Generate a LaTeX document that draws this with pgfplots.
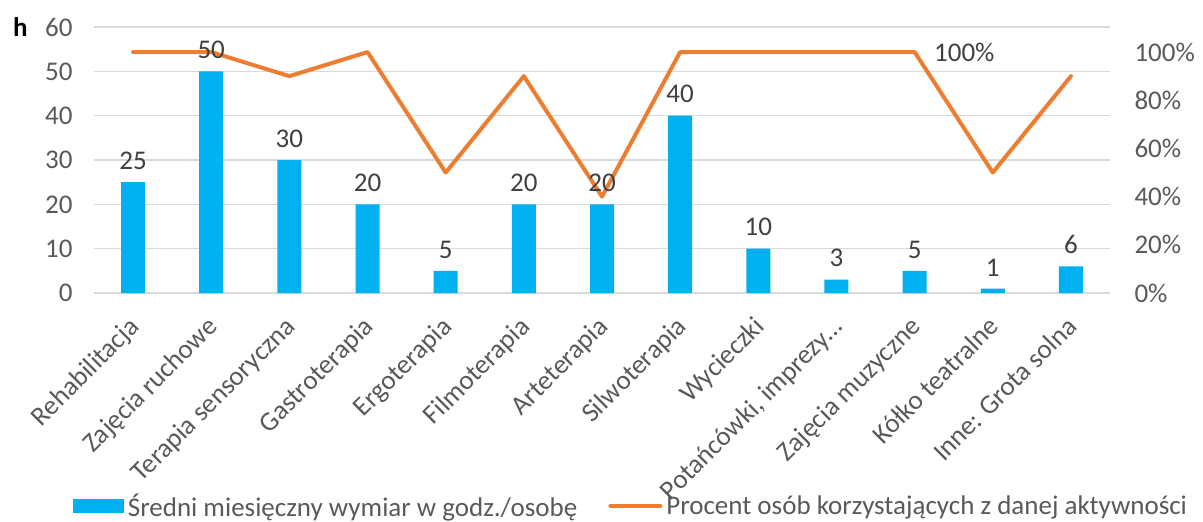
\documentclass[border=0pt]{standalone}
\usepackage{pgfplots}
\pgfplotsset{compat=1.18}
\usepackage{pgfplotstable}
\usepackage{fontspec}
\setmainfont{Carlito}

\definecolor{barblue}{HTML}{00B0F0}
\definecolor{lineorange}{HTML}{ED7D31}
\definecolor{gridgray}{HTML}{D9D9D9}
\definecolor{ticktext}{HTML}{595959}
\definecolor{labeltext}{HTML}{404040}

% idx: category, hours: average monthly hours per person, pct: share of people (%)
\pgfplotstableread{
idx hours pct
0   25    100
1   50    100
2   30    90
3   20    100
4   5     50
5   20    90
6   20    40
7   40    100
8   10    100
9   3     100
10  5     100
11  1     50
12  6     90
}\activity

\newcommand{\chartfont}{\fontsize{27}{32}\selectfont}

\pgfplotsset{
  base/.style={
    scale only axis, width=1016pt, height=266pt,
    xmin=-0.5, xmax=12.5,
    axis line style={draw=none},
    major tick length=0pt,
    tick label style={font=\chartfont, text=ticktext},
    /pgf/number format/assume math mode=true,
  },
}

\begin{document}
\begin{tikzpicture}
% bars with the hour scale on the left
\begin{axis}[base,
  ymin=0, ymax=60, ytick={0,10,...,60},
  ymajorgrids, grid style={gridgray, line width=1.5pt},
  yticklabel style={xshift=-18pt},
  xtick={0,...,12},
  xticklabels={Rehabilitacja, Zajęcia ruchowe, Terapia sensoryczna, Gastroterapia,
    Ergoterapia, Filmoterapia, Arteterapia, Silwoterapia, Wycieczki,
    {Potańcówki, imprezy…}, Zajęcia muzyczne, Kółko teatralne, Inne: Grota solna},
  xticklabel style={rotate=45, anchor=north east, xshift=-16pt, yshift=-8pt},
  legend columns=2,
  legend style={draw=none, fill=none, font=\chartfont, text=ticktext,
    at={(0.5295,-0.80)}, anchor=center,
    nodes={inner xsep=4pt},
    /tikz/every odd column/.append style={column sep=0pt},
    /tikz/every even column/.append style={column sep=27pt}},
]
\coordinate (bl) at (rel axis cs:0,0);
\coordinate (tr) at (rel axis cs:1,1);
\addplot[ybar, bar width=24pt, fill=barblue, draw=none,
  legend image code/.code={\fill[barblue] (0pt,-7pt) rectangle (51pt,7pt);}]
  table[x=idx, y=hours]{\activity};
\addlegendentry{Średni miesięczny wymiar w godz./osobę}
\addlegendimage{lineorange, line width=4pt,
  legend image code/.code={\draw[lineorange, line width=4pt, line cap=round] (2pt,0pt) -- (52pt,0pt);}}
\addlegendentry{Procent osób korzystających z danej aktywności}
\end{axis}

% share of people with the percent scale on the right
\begin{axis}[base,
  axis y line*=right,
  ymin=0, ymax=110.4, ytick={0,20,...,100},
  yticklabel={\pgfmathprintnumber{\tick}\%},
  yticklabel style={xshift=21pt},
  xtick=\empty,
  clip=false,
]
\addplot[lineorange, line width=4pt, line join=round, line cap=round, mark=none]
  table[x=idx, y=pct]{\activity};
\node[anchor=west, font=\chartfont, text=labeltext] at ([xshift=16pt]axis cs:10,100) {100\%};
\end{axis}

% value labels above the bars, on top of everything
\begin{axis}[base, hide axis, ymin=0, ymax=60]
\addplot[ybar, bar width=24pt, draw=none, fill=none,
  nodes near coords,
  every node near coord/.append style={font=\chartfont, text=labeltext, yshift=9pt}]
  table[x=idx, y=hours]{\activity};
\end{axis}

% axis caption for the hour scale
\path (bl |- tr) coordinate (tl);
\node[anchor=west, font=\bfseries\chartfont, text=black, inner sep=0pt] at ([xshift=-81pt]tl) {h};

\path ([xshift=-94pt, yshift=-225pt]bl) rectangle ([xshift=93pt, yshift=27pt]tr);
\end{tikzpicture}
\end{document}
